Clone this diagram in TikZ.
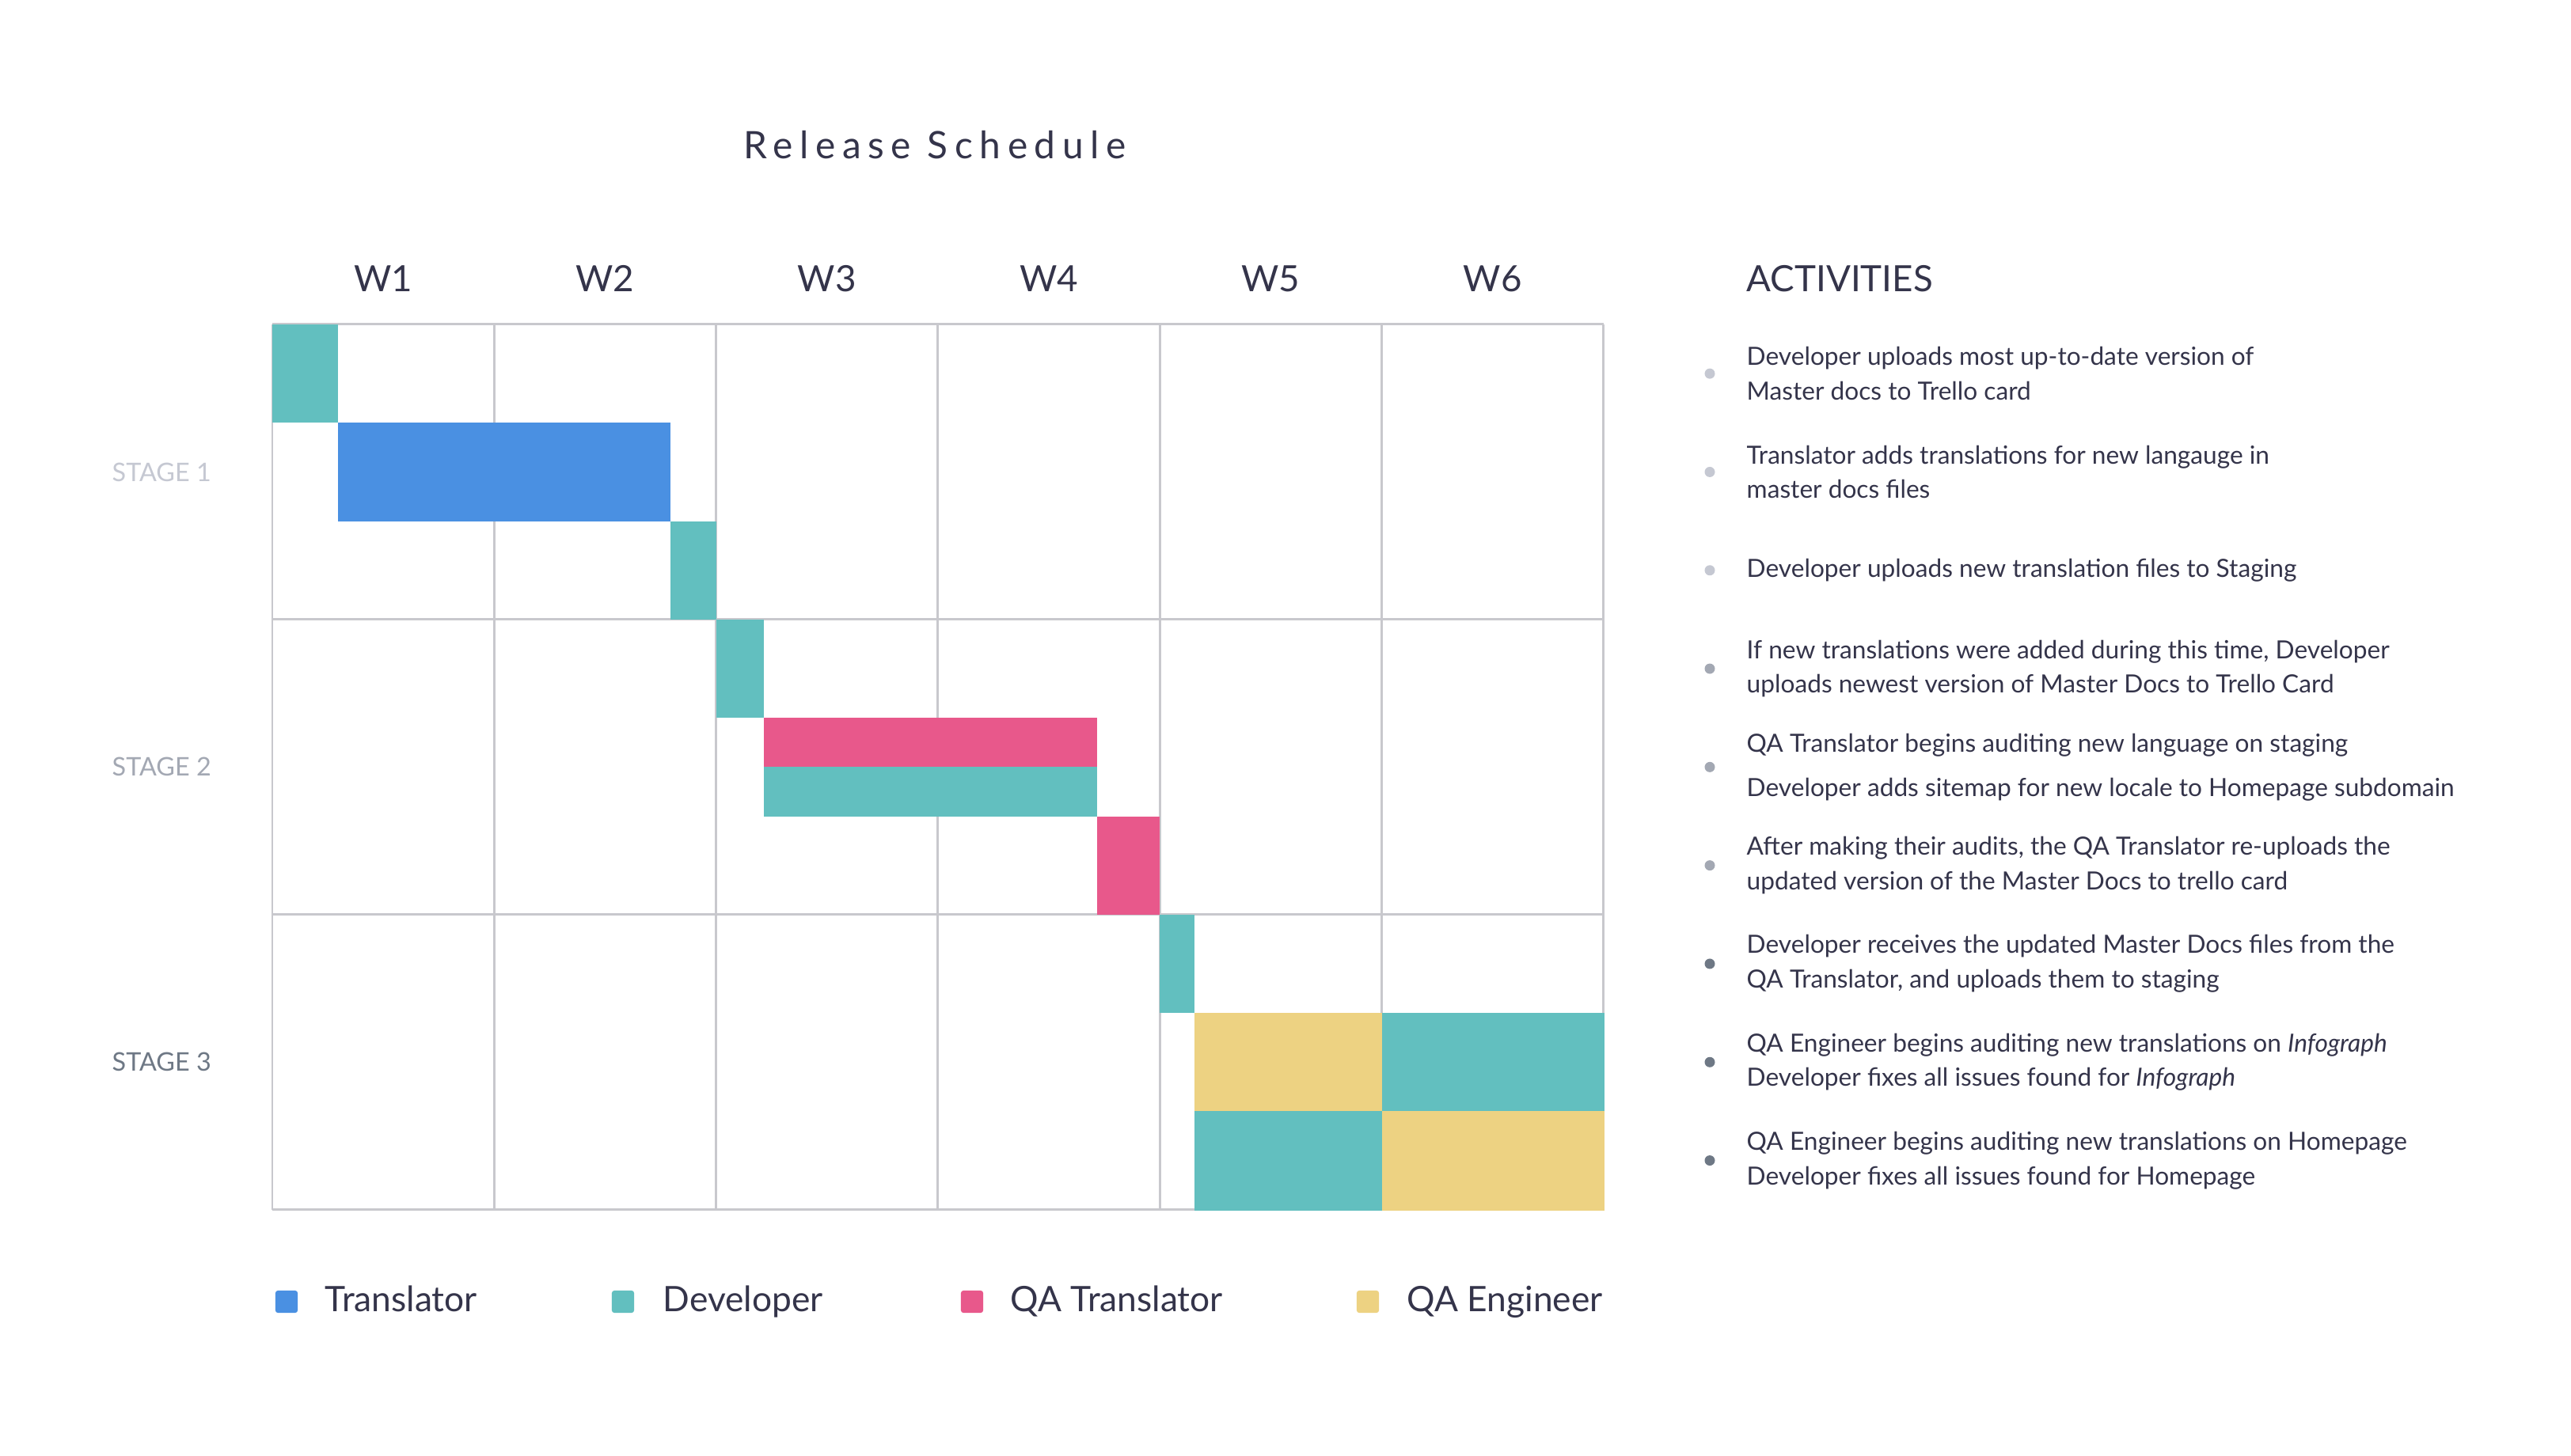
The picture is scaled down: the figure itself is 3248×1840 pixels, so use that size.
\documentclass[tikz,border=0pt]{standalone}
\usepackage{fontspec}
\setmainfont{Lato}
\newfontfamily\spacedfont[LetterSpace=18]{Lato}
\definecolor{ink}{HTML}{34344A}
\definecolor{gridc}{HTML}{C8C8CD}
\definecolor{teal}{HTML}{62BFBF}
\definecolor{tblue}{HTML}{4A90E2}
\definecolor{tpink}{HTML}{E8588B}
\definecolor{tyellow}{HTML}{EDD282}
\definecolor{toneA}{HTML}{C5C8D2}
\definecolor{toneB}{HTML}{A3A8B3}
\definecolor{toneC}{HTML}{6E7885}
\tikzset{
  weeklbl/.style={anchor=base, text=ink, font=\fontsize{13}{15}\selectfont, inner sep=0pt},
  stagelbl/.style={anchor=west, font=\fontsize{9.2}{11}\selectfont, inner sep=0pt},
  activity/.style={anchor=west, align=left, text=ink, font=\fontsize{9}{12.4}\selectfont, inner sep=0pt},
  legendlbl/.style={anchor=base west, text=ink, font=\fontsize{12.6}{14}\selectfont, inner sep=0pt},
  swatch/.style={minimum size=8pt, inner sep=0pt, rounded corners=0.9pt},
  gridline/.style={draw=gridc, line width=0.85pt},
}
\begin{document}
\begin{tikzpicture}[x=0.01cm, y=-0.01cm]
\useasboundingbox[fill=white] (0,0) rectangle (3248,1840);
% column and row boundaries
\def\colw{280.3}
\def\rowh{124.3}
\pgfmathsetmacro{\xl}{344}
\pgfmathsetmacro{\xr}{344+6*\colw}
\pgfmathsetmacro{\yt}{410}
\pgfmathsetmacro{\yb}{410+9*\rowh}
% title
\node[anchor=base, text=ink, font=\spacedfont\fontsize{13.6}{16}\selectfont, inner sep=0pt] (title) at (1181,201) {Release Schedule};
% week headers
\foreach \w in {1,...,6}
  \node[weeklbl] (w\w) at ({\xl+(\w-0.5)*\colw},369) {W\w};
% grid
\foreach \i in {0,...,6}
  \draw[gridline] ({\xl+\i*\colw},\yt) -- ({\xl+\i*\colw},\yb);
\foreach \j in {0,3,6,9}
  \draw[gridline] (\xl,{\yt+\j*\rowh}) -- (\xr,{\yt+\j*\rowh});
% stage labels
\node[stagelbl, text=toneA] (s1) at (141,{\yt+1.5*\rowh}) {STAGE 1};
\node[stagelbl, text=toneB] (s2) at (141,{\yt+4.5*\rowh}) {STAGE 2};
\node[stagelbl, text=toneC] (s3) at (141,{\yt+7.5*\rowh}) {STAGE 3};
% schedule bars
\fill[teal]   (344,{\yt})          rectangle (427,{\yt+\rowh});
\fill[tblue]  (427,{\yt+\rowh})    rectangle (847,{\yt+2*\rowh});
\fill[teal]   (847,{\yt+2*\rowh})  rectangle ({\xl+2*\colw},{\yt+3*\rowh});
\fill[teal]   ({\xl+2*\colw},{\yt+3*\rowh}) rectangle (965,{\yt+4*\rowh});
\fill[tpink]  (965,{\yt+4*\rowh})  rectangle (1386,{\yt+4.5*\rowh});
\fill[teal]   (965,{\yt+4.5*\rowh}) rectangle (1386,{\yt+5*\rowh});
\fill[tpink]  (1386,{\yt+5*\rowh}) rectangle ({\xl+4*\colw},{\yt+6*\rowh});
\fill[teal]   ({\xl+4*\colw},{\yt+6*\rowh}) rectangle (1509,{\yt+7*\rowh});
\fill[tyellow] (1509,{\yt+7*\rowh}) rectangle ({\xl+5*\colw},{\yt+8*\rowh});
\fill[teal]   ({\xl+5*\colw},{\yt+7*\rowh}) rectangle ({\xr+1.5},{\yt+8*\rowh});
\fill[teal]   (1509,{\yt+8*\rowh}) rectangle ({\xl+5*\colw},{\yb+1.5});
\fill[tyellow] ({\xl+5*\colw},{\yt+8*\rowh}) rectangle ({\xr+1.5},{\yb+1.5});
% activities
\node[anchor=west, text=ink, font=\fontsize{13}{15}\selectfont, inner sep=0pt] (acth) at (2206,352) {ACTIVITIES};
\foreach \k/\c/\t in {
  0/toneA/{Developer uploads most up-to-date version of\\Master docs to Trello card},
  1/toneA/{Translator adds translations for new langauge in\\master docs files},
  2/toneA/{Developer uploads new translation files to Staging},
  3/toneB/{If new translations were added during this time, Developer\\uploads newest version of Master Docs to Trello Card},
  5/toneB/{After making their audits, the QA Translator re-uploads the\\updated version of the Master Docs to trello card},
  6/toneC/{Developer receives the updated Master Docs files from the\\QA Translator, and uploads them to staging},
  7/toneC/{QA Engineer begins auditing new translations on \textit{Infograph}\\Developer fixes all issues found for \textit{Infograph}},
  8/toneC/{QA Engineer begins auditing new translations on Homepage\\Developer fixes all issues found for Homepage}}
{
  \fill[\c] (2160,{\yt+(\k+0.5)*\rowh}) circle (6.5);
  \node[activity] (act\k) at (2206,{\yt+(\k+0.5)*\rowh}) {\t};
}
\fill[toneB] (2160,{\yt+4.5*\rowh}) circle (6.5);
\node[activity, font=\fontsize{9}{15.9}\selectfont] (act4) at (2206,{\yt+4.5*\rowh}) {QA Translator begins auditing new language on staging\\Developer adds sitemap for new locale to Homepage subdomain};
% legend
\node[swatch, fill=tblue]   (k1) at (362,1645) {};
\node[legendlbl] (l1) at (410,1657) {Translator};
\node[swatch, fill=teal]    (k2) at (787,1645) {};
\node[legendlbl] (l2) at (837,1657) {Developer};
\node[swatch, fill=tpink]   (k3) at (1228,1645) {};
\node[legendlbl] (l3) at (1276,1657) {QA Translator};
\node[swatch, fill=tyellow] (k4) at (1728,1645) {};
\node[legendlbl] (l4) at (1777,1657) {QA Engineer};
\end{tikzpicture}
\end{document}
